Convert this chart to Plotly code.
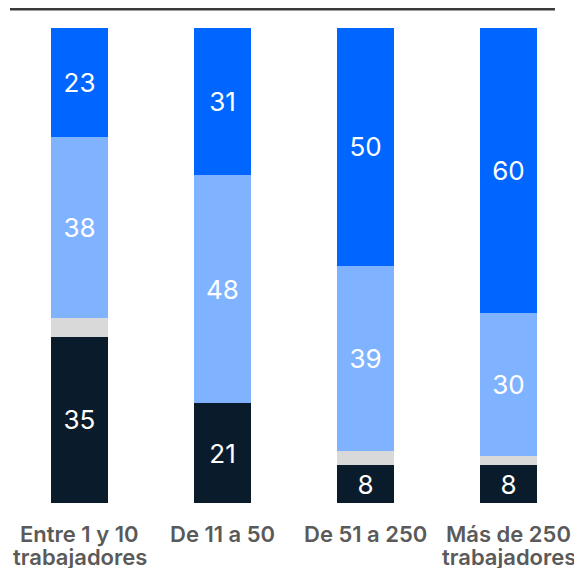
import plotly.graph_objects as go

categories = ["Entre 1 y 10<br>trabajadores", "De 11 a 50", "De 51 a 250", "Más de 250<br>trabajadores"]
dark_vals = [35, 21, 8, 8]
gray_vals = [4, 0, 3, 2]
light_vals = [38, 48, 39, 30]
blue_vals = [23, 31, 50, 60]

series = [
    (dark_vals, "#0a1c2b", True),
    (gray_vals, "#d9d9d9", False),
    (light_vals, "#80b3ff", True),
    (blue_vals, "#0066ff", True),
]

xs = list(range(len(categories)))
fig = go.Figure()
for vals, color, show in series:
    fig.add_trace(go.Bar(
        x=xs, y=vals, marker=dict(color=color, line=dict(width=0)),
        width=0.4,
        text=[str(v) for v in vals] if show else None,
        texttemplate="%{text}" if show else None,
        textposition="inside" if show else "none",
        insidetextanchor="middle",
        textangle=0,
        constraintext="none",
        textfont=dict(family="Inter", size=26, color="white"),
        hoverinfo="skip",
    ))

fig.update_layout(
    barmode="stack",
    width=582, height=568,
    margin=dict(l=0, r=10, t=1, b=73),
    plot_bgcolor="white", paper_bgcolor="white",
    showlegend=False,
    xaxis=dict(
        range=[-0.5, 3.5], showticklabels=False,
        showgrid=False, zeroline=False, showline=False, ticks="",
    ),
    yaxis=dict(range=[0, 104.0], visible=False),
)
for i, cat in enumerate(categories):
    for j, line in enumerate(cat.split("<br>")):
        fig.add_annotation(
            x=i, xref="x", y=0, yref="paper", yanchor="top", xanchor="center",
            yshift=-16 - 23 * j, showarrow=False, text=line,
            font=dict(family="Inter", size=22, color="#5a5a5a", weight=600),
        )
fig.add_shape(type="line", xref="x", yref="paper", x0=-0.486, x1=3.325, y0=1, y1=1,
              line=dict(color="#3a3a3a", width=3))
fig.write_html("out.html")
